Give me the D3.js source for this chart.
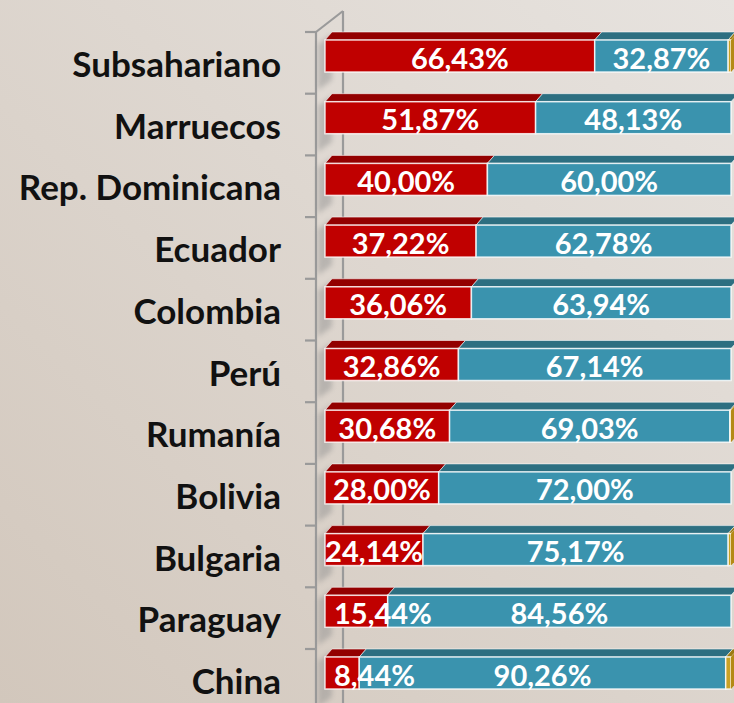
<!DOCTYPE html>
<html><head><meta charset="utf-8">
<script src="https://cdn.jsdelivr.net/npm/d3@7"></script>
<style>
html,body{margin:0;padding:0;overflow:hidden;}
svg{display:block;}
</style>
</head><body>
<svg id="chart" width="734" height="703"></svg>
<script>
const categories = ["Subsahariano","Marruecos","Rep. Dominicana","Ecuador","Colombia","Perú","Rumanía","Bolivia","Bulgaria","Paraguay","China"];
const seriesRed  = [66.43,51.87,40.00,37.22,36.06,32.86,30.68,28.00,24.14,15.44,8.44];
const seriesTeal = [32.87,48.13,60.00,62.78,63.94,67.14,69.03,72.00,75.17,84.56,90.26];
const seriesGold = [0.70,0,0,0,0,0,0.29,0,0.69,0,1.30];
const keys = ["red","teal","gold"];

(function(){
const W = 734, H = 703;
const svg = d3.select("#chart");
const defs = svg.append("defs");
const bg = defs.append("linearGradient").attr("id","bg").attr("x1","1").attr("y1","0").attr("x2","0").attr("y2","1");
bg.append("stop").attr("offset","0").attr("stop-color","#E7E3DF");
bg.append("stop").attr("offset","1").attr("stop-color","#D2C7BC");
defs.append("filter").attr("id","blur").attr("x","-50%").attr("y","-50%").attr("width","200%").attr("height","200%")
  .append("feGaussianBlur").attr("stdDeviation","2.5");
svg.append("rect").attr("width",W).attr("height",H).attr("fill","url(#bg)");

const data = categories.map((c,i)=>({cat:c, red:seriesRed[i], teal:seriesTeal[i], gold:seriesGold[i]}));
const stack = d3.stack().keys(keys)(data);

const x = d3.scaleLinear().domain([0,100]).range([325,731]);
const y = d3.scaleBand().domain(categories).range([32, 32 + 61.7*categories.length]).paddingInner(0).paddingOuter(0);
const dx = 7, dy = 8, barH = 32;

const frontCol = {red:"#C00000", teal:"#3A93AE", gold:"#C9A227"};
const topCol = {red:"#930000", teal:"#2D6F81", gold:"#9C7A12"};

// wall
const wallX = 316, wallBackX = 343;
const wall = svg.append("g").attr("stroke","#9A9A9A").attr("stroke-width",2.2).attr("fill","none");
wall.append("line").attr("x1",wallX).attr("x2",wallX).attr("y1",y.range()[0]).attr("y2",H);
wall.append("line").attr("x1",wallBackX).attr("x2",wallBackX).attr("y1",11).attr("y2",H);
wall.append("line").attr("x1",wallX).attr("y1",y.range()[0]).attr("x2",wallBackX).attr("y2",11);
categories.forEach(c=>{
  wall.append("line").attr("x1",305).attr("x2",wallX).attr("y1",y(c)).attr("y2",y(c));
});
// wall shadows
svg.append("g").selectAll("path").data(categories).join("path")
  .attr("d",c=>{const t=y(c); return `M${wallX+2},${t+12} L${wallX+16},${t+2} L${wallX+16},${t+48} L${wallX+2},${t+58} Z`;})
  .attr("fill","#8C8C8C").attr("opacity",0.45).attr("filter","url(#blur)");

// bars
const gBars = svg.append("g");
stack.forEach(layer=>{
  const k = layer.key;
  layer.forEach((d,i)=>{
    const c = categories[i];
    const x0 = x(d[0]), x1 = x(d[1]);
    if (x1 - x0 <= 0) return;
    const yt = y(c) + dy;
    gBars.append("path")
      .attr("d",`M${x0},${yt} L${x0+dx},${yt-dy} L${x1+dx},${yt-dy} L${x1},${yt} Z`)
      .attr("fill",topCol[k]).attr("stroke","rgba(255,255,255,0.55)").attr("stroke-width",1);
    gBars.append("rect").attr("x",x0).attr("y",yt).attr("width",x1-x0).attr("height",barH)
      .attr("fill",frontCol[k]).attr("stroke","rgba(255,255,255,0.8)").attr("stroke-width",1.5);
    if (k==="gold"){
      gBars.append("path")
        .attr("d",`M${x1},${yt} L${x1+dx},${yt-dy} L${x1+dx},${yt-dy+barH} L${x1},${yt+barH} Z`)
        .attr("fill","#B48A16");
    }
  });
});

// value labels
const fmt = v => d3.format(".2f")(v).replace(".",",") + "%";
const gLab = svg.append("g").attr("font-family","Lato, 'Open Sans', sans-serif").attr("font-weight","700")
  .attr("font-size",29).attr("fill","#FFFFFF").attr("text-anchor","middle");
stack.filter(l=>l.key!=="gold").forEach(layer=>{
  layer.forEach((d,i)=>{
    const c = categories[i];
    const t = gLab.append("text")
      .attr("y",y(c)+dy+barH/2+1)
      .attr("dominant-baseline","central")
      .text(fmt(d[1]-d[0]));
    const w = t.node().getComputedTextLength();
    let cx = (x(d[0])+x(d[1]))/2;
    if (cx - w/2 < x(0)) cx = x(0) + 9 + w/2;
    t.attr("x",cx);
  });
});

// category labels
svg.append("g").attr("font-family","Lato, 'Open Sans', sans-serif").attr("font-weight","700")
  .attr("font-size",35).attr("fill","#111").attr("text-anchor","end")
  .selectAll("text").data(categories).join("text")
  .attr("x",281).attr("y",c=>y(c)+31).attr("dominant-baseline","central").text(c=>c);
})();
</script>
</body></html>
